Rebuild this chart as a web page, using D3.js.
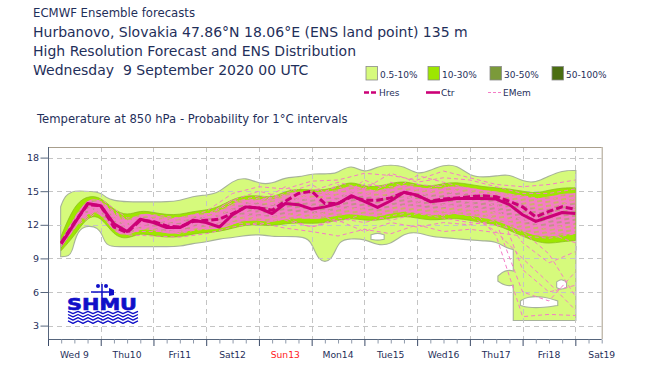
<!DOCTYPE html>
<html><head><meta charset="utf-8">
<script src="https://cdn.jsdelivr.net/npm/d3@7"></script>
<style>
body{margin:0;background:#fff;}
svg{display:block;font-family:"DejaVu Sans",sans-serif;}
text{white-space:pre;}
</style></head><body>
<svg id="c" width="650" height="376"></svg>
<script>
// ---------------- data ----------------
const steps = [6,12,18,24,30,36,42,48,54,60,66,72,78,84,90,96,102,108,114,120,126,132,138,144,150,156,162,168,174,180,186,192,198,204,210,216,222,228,234,240];
const ctr  = [10.3,12.1,13.9,13.7,12.1,11.4,12.5,12.2,11.75,11.75,12.4,12.2,11.8,12.9,13.6,13.5,13.0,13.9,13.8,13.4,13.6,13.9,14.6,14.1,13.55,14.15,14.9,14.65,14.06,14.2,14.35,14.35,14.35,14.3,13.8,12.9,12.3,12.7,13.1,13.0];
const hres = [10.4,12.2,13.8,13.7,11.8,11.3,12.4,12.3,11.9,11.8,12.3,12.4,12.5,13.0,13.6,13.5,13.3,14.1,14.8,15.0,13.9,13.9,14.5,14.2,14.2,14.4,14.9,14.6,14.1,14.3,14.4,14.5,14.6,14.5,14.1,13.6,12.7,13.2,13.6,13.4];

// 0.5-10 % envelope
const outerH  = [6,8,11,13,24,26,30,36,42,48,54,60,66,72,78,84,90,96,102,108,114,120,123,129,132,138,144,150,156,162,168,174,180,186,192,198,204,210,216,222,228,234,240];
const outerLo = [9.2,9.2,9.4,12.0,12.0,10.2,10.1,10.1,10.1,10.1,10.1,10.1,10.4,10.5,10.8,10.9,11.1,11.2,11.0,11.0,11.0,10.8,8.7,8.7,10.7,10.8,10.8,10.2,10.3,11.3,11.4,11.0,10.9,10.8,10.7,10.6,10.6,9.8,9.8,9.8,9.8,9.8,9.8];
const outerHi = [13.6,14.6,14.9,15.0,14.9,14.4,14.1,14.0,14.0,14.0,14.0,14.1,14.5,14.6,14.8,15.9,16.2,15.6,15.6,16.2,16.2,16.5,16.5,16.5,16.6,17.4,16.5,17.2,17.3,17.2,16.4,16.8,17.3,17.3,16.3,16.2,16.3,16.5,15.8,15.7,16.3,16.8,16.8];
// cold tail pieces of the 0.5-10 % area
const coldH  = [212,216,222,228,234,240];
const coldLo = [3.5,3.5,3.5,3.5,3.5,3.5];
const coldHi = [10.0,10.0,10.0,10.0,10.0,10.0];
const lobeH  = [205,208,212,215];
const lobeLo = [7.0,6.6,6.6,7.0];
const lobeHi = [7.4,7.9,7.9,7.4];
// empty (0 %) holes
const hole1H = [215,218,226,232];
const hole1Lo = [4.8,4.6,4.6,4.8];
const hole1Hi = [5.2,5.6,5.6,5.2];
const hole2H = [231.5,233.5,236];
const hole2Lo = [6.4,6.2,6.4];
const hole2Hi = [6.9,7.2,6.9];
const hole3H = [147,150,153];
const hole3Lo = [10.7,10.6,10.7];
const hole3Hi = [11.1,11.3,11.1];

// 10-30 % envelope
const midLo = [9.7,11.0,12.8,12.8,11.0,10.7,11.3,11.0,10.9,10.9,11.2,11.3,11.4,11.7,12.0,12.0,11.9,12.1,12.2,12.1,12.2,12.4,12.6,12.4,12.4,12.6,12.8,12.6,12.4,12.5,12.6,12.4,12.2,12.0,11.5,11.0,10.5,10.3,10.5,10.6];
const midHi = [11.0,13.8,14.6,14.5,13.3,12.8,13.3,13.1,12.9,12.9,13.2,13.3,13.6,14.3,14.6,14.6,14.4,15.0,15.2,15.1,15.1,15.4,15.9,15.4,15.4,15.7,15.9,15.6,15.4,15.7,15.8,15.6,15.4,15.3,15.2,15.0,14.8,15.1,15.3,15.3];
// 30-50 % envelope
const oliveLo = [9.9,11.7,13.4,13.3,11.6,11.0,11.9,11.7,11.4,11.4,11.8,11.8,11.9,12.4,12.9,12.8,12.6,13.0,13.1,13.0,13.1,13.3,13.6,13.4,13.2,13.5,13.8,13.6,13.4,13.5,13.6,13.5,13.3,13.2,12.7,12.2,11.8,11.8,12.0,12.1];
const oliveHi = [10.7,12.5,14.3,14.1,12.5,11.8,12.8,12.6,12.2,12.2,12.8,12.7,12.8,13.5,14.1,14.0,13.6,14.4,14.5,14.2,14.3,14.6,15.1,14.7,14.3,14.8,15.2,15.0,14.6,14.8,15.0,14.9,14.8,14.7,14.4,13.9,13.3,13.4,13.9,13.9];
// dense member core
const coreLo = [10.0,11.6,13.2,13.1,11.3,10.9,11.7,11.5,11.2,11.2,11.6,11.6,11.6,12.0,12.4,12.4,12.2,12.5,12.6,12.5,12.6,12.8,13.0,12.8,12.7,13.0,13.2,13.0,12.8,12.9,13.0,12.8,12.6,12.4,11.9,11.4,11.0,10.9,11.1,11.2];
const coreHi = [10.6,12.7,14.4,14.3,12.9,12.2,13.1,12.9,12.6,12.6,13.0,13.0,13.2,13.9,14.3,14.3,14.1,14.8,15.0,14.9,14.9,15.1,15.6,15.2,15.0,15.3,15.6,15.4,15.2,15.3,15.5,15.3,15.1,15.0,14.8,14.6,14.3,14.5,14.8,14.8];

// individual ensemble members (12-hourly)
const memH = [6,12,24,36,48,60,72,84,96,108,120,132,144,156,168,180,192,204,216,228,240];
const mem1 = [10.4,12.4,14.3,12.6,12.9,12.6,13.2,14.8,15.4,15.2,15.9,16.0,16.6,16.4,16.0,16.8,16.2,15.6,15.4,15.6,16.0];
const mem2 = [10.2,11.8,13.3,11.1,11.0,10.9,11.2,11.8,12.2,11.7,11.4,11.0,11.6,11.2,12.0,11.4,11.6,11.3,11.0,10.8,11.2];
const mem3 = [10.3,12.1,13.6,11.6,12.2,11.8,12.0,13.2,13.6,14.0,14.4,14.2,14.8,15.0,14.2,13.8,13.6,11.0,3.8,4.0,3.9];
const mem4 = [10.3,12.2,13.9,11.9,12.4,12.0,12.6,13.6,14.2,14.6,13.8,15.0,14.2,14.6,15.2,14.8,13.8,12.2,6.0,5.2,7.8];
const mem5 = [10.3,12.0,13.5,11.5,11.8,11.4,12.0,12.8,13.0,13.2,12.6,13.6,13.4,13.8,13.6,13.2,12.8,11.4,9.0,6.8,4.4];
const mem6 = [10.4,12.3,14.0,12.2,12.6,12.2,12.8,14.0,14.6,14.2,15.2,14.6,15.6,15.4,15.6,15.4,14.8,13.6,10.4,8.6,9.6];
const mem7 = [10.3,12.1,13.7,12.0,12.0,11.6,12.4,13.4,13.2,13.8,14.6,15.4,14.6,15.8,15.0,14.0,15.0,14.6,13.6,11.2,10.4];
const mem8 = [10.2,12.0,13.8,11.8,12.5,12.2,12.0,12.6,12.8,12.4,11.8,12.6,12.2,12.8,13.2,12.8,13.4,12.6,11.8,12.4,13.6];
const mem9 = [10.4,12.3,14.1,12.4,12.2,11.8,12.8,14.2,14.0,14.8,15.6,14.2,16.0,15.0,16.4,15.8,15.2,14.8,14.6,14.2,14.8];
const mem10 = [10.3,12.2,13.7,11.8,11.6,11.2,11.8,12.4,12.6,12.8,13.2,12.2,13.0,12.4,13.0,12.6,12.2,12.0,11.4,9.4,5.6];
const mem11 = [10.3,12.2,14.0,12.3,12.6,12.4,12.9,14.2,15.0,14.4,15.0,15.8,15.2,16.6,15.8,16.2,16.0,15.4,14.8,14.8,15.2];
const mem12 = [10.2,11.9,13.5,11.4,11.4,11.4,11.6,12.2,12.0,12.6,11.8,12.4,11.4,12.2,11.8,12.2,12.0,12.4,12.6,11.6,12.2];
const mem13 = [10.3,12.1,13.8,12.1,12.3,12.0,12.3,13.8,14.4,14.0,14.8,14.4,15.4,14.2,15.0,15.6,14.4,14.2,8.0,6.0,6.6];
const mem14 = [10.4,12.2,13.9,12.2,12.1,11.9,12.6,13.0,14.0,15.4,14.2,15.6,14.0,15.2,14.0,15.2,14.0,13.0,12.4,13.2,14.4];

const yTicks = [3,6,9,12,15,18];
const dayTicks = [0,24,48,72,96,120,144,168,192,216,240];
const minorTicks = [6,12,18,30,36,42,54,60,66,78,84,90,102,108,114,126,132,138,150,156,162,174,180,186,198,204,210,222,228,234,246,252];
const dayLabels = ["Wed 9","Thu10","Fri11","Sat12","Sun13","Mon14","Tue15","Wed16","Thu17","Fri18","Sat19"];
const dayLabelHours = [12,36,60,84,108,132,156,180,204,228,252];
const titles = ["ECMWF Ensemble forecasts","Hurbanovo, Slovakia 47.86°N 18.06°E (ENS land point) 135 m","High Resolution Forecast and ENS Distribution","Wednesday  9 September 2020 00 UTC"];
const subtitle = "Temperature at 850 hPa - Probability for 1°C intervals";
const probLabels = ["0.5-10%","10-30%","30-50%","50-100%"];
const probColors = ["#d6fa7c","#9de600","#7b9a3a","#4b6e12"];
const lineLabels = ["Hres","Ctr","EMem"];

// ---------------- drawing ----------------
const svg = d3.select("#c");
const navy = "#1f2f5a";
const pink = "#f57cc6";
const L = 48, R = 601.7, T = 147, B = 339;
const x = d3.scaleLinear().domain([0,252]).range([L,R]);
const y = d3.scaleLinear().domain([0,18]).range([359.2,359.2-18*11.2]);

// titles
const tsz = [11.7,14,14,14], tby = [17,36.5,55.5,74.5];
titles.forEach((t,i)=>svg.append("text").attr("x",33).attr("y",tby[i]).attr("font-size",tsz[i]).attr("fill",navy).text(t));
svg.append("text").attr("x",37).attr("y",123).attr("font-size",11.6).attr("fill",navy).text(subtitle);

// legend
const lg = svg.append("g");
probLabels.forEach((p,i)=>{
  const gx = 366 + i*62;
  lg.append("rect").attr("x",gx).attr("y",66.5).attr("width",11.5).attr("height",13.5).attr("fill",probColors[i]).attr("stroke","#8a8a8a").attr("stroke-width",0.8);
  lg.append("text").attr("x",gx+14).attr("y",77.5).attr("font-size",9).attr("fill",navy).text(p);
});
const lstyles = [{c:"#cc0077",w:2.6,d:"5,2"},{c:"#cc0077",w:2.6,d:null},{c:pink,w:1,d:"3,2"}];
lineLabels.forEach((p,i)=>{
  const gx = 364 + i*62;
  lg.append("line").attr("x1",gx).attr("x2",gx+14).attr("y1",92.5).attr("y2",92.5)
    .attr("stroke",lstyles[i].c).attr("stroke-width",lstyles[i].w).attr("stroke-dasharray",lstyles[i].d);
  lg.append("text").attr("x",gx+15).attr("y",96).attr("font-size",9).attr("fill",navy).text(p);
});

// pattern imitating the dense bundle of dashed member lines
const defs = svg.append("defs");
const pat = defs.append("pattern").attr("id","mem").attr("patternUnits","userSpaceOnUse")
  .attr("width",16).attr("height",4).attr("patternTransform","rotate(-9)");
pat.append("line").attr("x1",0).attr("x2",11).attr("y1",1).attr("y2",1).attr("stroke",pink).attr("stroke-width",2);
pat.append("line").attr("x1",8).attr("x2",16).attr("y1",3).attr("y2",3).attr("stroke",pink).attr("stroke-width",2);
pat.append("line").attr("x1",0).attr("x2",3).attr("y1",3).attr("y2",3).attr("stroke",pink).attr("stroke-width",2);

// clip
defs.append("clipPath").attr("id","pc").append("rect").attr("x",L).attr("y",T).attr("width",R-L).attr("height",B-T);
const plot = svg.append("g").attr("clip-path","url(#pc)");

function band(H,lo,hi){
  return d3.area().x((d,i)=>x(H[i])).y0((d,i)=>y(lo[i])).y1((d,i)=>y(hi[i])).curve(d3.curveBasis)(H);
}
const outerPaths = [band(outerH,outerLo,outerHi), band(coldH,coldLo,coldHi), band(lobeH,lobeLo,lobeHi)];
const holePaths = [band(hole1H,hole1Lo,hole1Hi), band(hole2H,hole2Lo,hole2Hi), band(hole3H,hole3Lo,hole3Hi)];
outerPaths.forEach(p=>plot.append("path").attr("d",p).attr("fill","none").attr("stroke","#a7b39a").attr("stroke-width",2.2));
outerPaths.forEach(p=>plot.append("path").attr("d",p).attr("fill",probColors[0]));
holePaths.forEach(p=>plot.append("path").attr("d",p).attr("fill","#fff").attr("stroke","#a7b39a").attr("stroke-width",1.1));

// grid
const grid = plot.append("g").attr("stroke","#c4c4c4").attr("stroke-width",1).attr("stroke-dasharray","5,4");
yTicks.forEach(v=>grid.append("line").attr("x1",L).attr("x2",R).attr("y1",Math.round(y(v))+0.5).attr("y2",Math.round(y(v))+0.5));
dayTicks.slice(1).forEach(h=>grid.append("line").attr("x1",Math.round(x(h))+0.5).attr("x2",Math.round(x(h))+0.5).attr("y1",T).attr("y2",B));

plot.append("path").attr("d",band(steps,midLo,midHi)).attr("fill",probColors[1]).attr("stroke","#8cc020").attr("stroke-width",0.8);
plot.append("path").attr("d",band(steps,oliveLo,oliveHi)).attr("fill","#86a640");
plot.append("path").attr("d",band(steps,coreLo,coreHi)).attr("fill",pink).attr("fill-opacity",0.55);
plot.append("path").attr("d",band(steps,coreLo,coreHi)).attr("fill","url(#mem)");

// members
const mline = d3.line().x((d,i)=>x(memH[i])).y(d=>y(d));
[mem1,mem2,mem3,mem4,mem5,mem6,mem7,mem8,mem9,mem10,mem11,mem12,mem13,mem14].forEach(m=>
  plot.append("path").attr("d",mline(m)).attr("fill","none").attr("stroke",pink).attr("stroke-width",1).attr("stroke-dasharray","4,3"));

// hres / ctr
const sline = d3.line().x((d,i)=>x(steps[i])).y(d=>y(d));
plot.append("path").attr("d",sline(ctr)).attr("fill","none").attr("stroke","#cc0077").attr("stroke-width",3).attr("stroke-linejoin","round");
plot.append("path").attr("d",sline(hres)).attr("fill","none").attr("stroke","#cc0077").attr("stroke-width",3).attr("stroke-dasharray","7,3");

// frame
svg.append("line").attr("x1",L).attr("x2",R).attr("y1",T+0.5).attr("y2",T+0.5).attr("stroke","#a89e8c");
svg.append("line").attr("x1",R+0.5).attr("x2",R+0.5).attr("y1",T).attr("y2",B).attr("stroke","#a89e8c");

// y axis
const ya = svg.append("g").attr("transform",`translate(${L+0.5},0)`)
  .call(d3.axisLeft(y).tickValues(yTicks).tickSize(8).tickFormat(d3.format("d")).tickSizeOuter(0));
ya.select(".domain").attr("d",`M0,${T}V${B}`).attr("stroke","#56657c");
ya.selectAll(".tick line").attr("stroke","#56657c");
ya.selectAll(".tick text").attr("fill",navy).attr("font-size",9.5).attr("font-family","DejaVu Sans").attr("x",-9.5);

// x axis
const xa = svg.append("g").attr("transform",`translate(0,${B+0.5})`)
  .call(d3.axisBottom(x).tickValues(minorTicks).tickSize(4).tickFormat(""));
xa.select(".domain").attr("d",`M${L},0H${R}`).attr("stroke","#56657c");
xa.selectAll(".tick line").attr("stroke","#8e99aa");
const xb = svg.append("g").attr("transform",`translate(0,${B+0.5})`)
  .call(d3.axisBottom(x).tickValues(dayTicks).tickSize(6.5).tickFormat(""));
xb.select(".domain").remove();
xb.selectAll(".tick line").attr("stroke","#3c4b68");
dayLabels.forEach((t,i)=>svg.append("text").attr("x",x(dayLabelHours[i])).attr("y",358).attr("text-anchor","middle")
  .attr("font-size",9.2).attr("fill",t.startsWith("Sun")?"#ff2222":navy).text(t));

// SHMU logo
const logo = svg.append("g").attr("fill","#1010c8").attr("stroke","#1010c8");
logo.append("line").attr("x1",102).attr("x2",102).attr("y1",284).attr("y2",298).attr("stroke-width",1.5);
logo.append("line").attr("x1",91).attr("x2",113).attr("y1",292).attr("y2",292).attr("stroke-width",1.5);
logo.append("circle").attr("cx",98).attr("cy",286).attr("r",2).attr("stroke","none");
logo.append("circle").attr("cx",106).attr("cy",286).attr("r",2).attr("stroke","none");
logo.append("path").attr("d","M109,288 L114,290 L114,295 L109,296 Z").attr("stroke","none");
logo.append("text").attr("x",67).attr("y",310).attr("font-size",16).attr("font-weight","bold").attr("stroke-width",0.6)
  .attr("textLength",70).attr("lengthAdjust","spacingAndGlyphs").attr("font-family","DejaVu Sans").text("SHMU");
for(let r=0;r<4;r++){
  let d=""; for(let k=0;k<=14;k++){ const px=68+k*5; const py=312.5+r*3.2+(k%2?1.2:-1.2); d += (k?"L":"M")+px+","+py; }
  logo.append("path").attr("d",d).attr("fill","none").attr("stroke-width",1.3).attr("stroke-linejoin","round");
}
</script>
</body></html>
